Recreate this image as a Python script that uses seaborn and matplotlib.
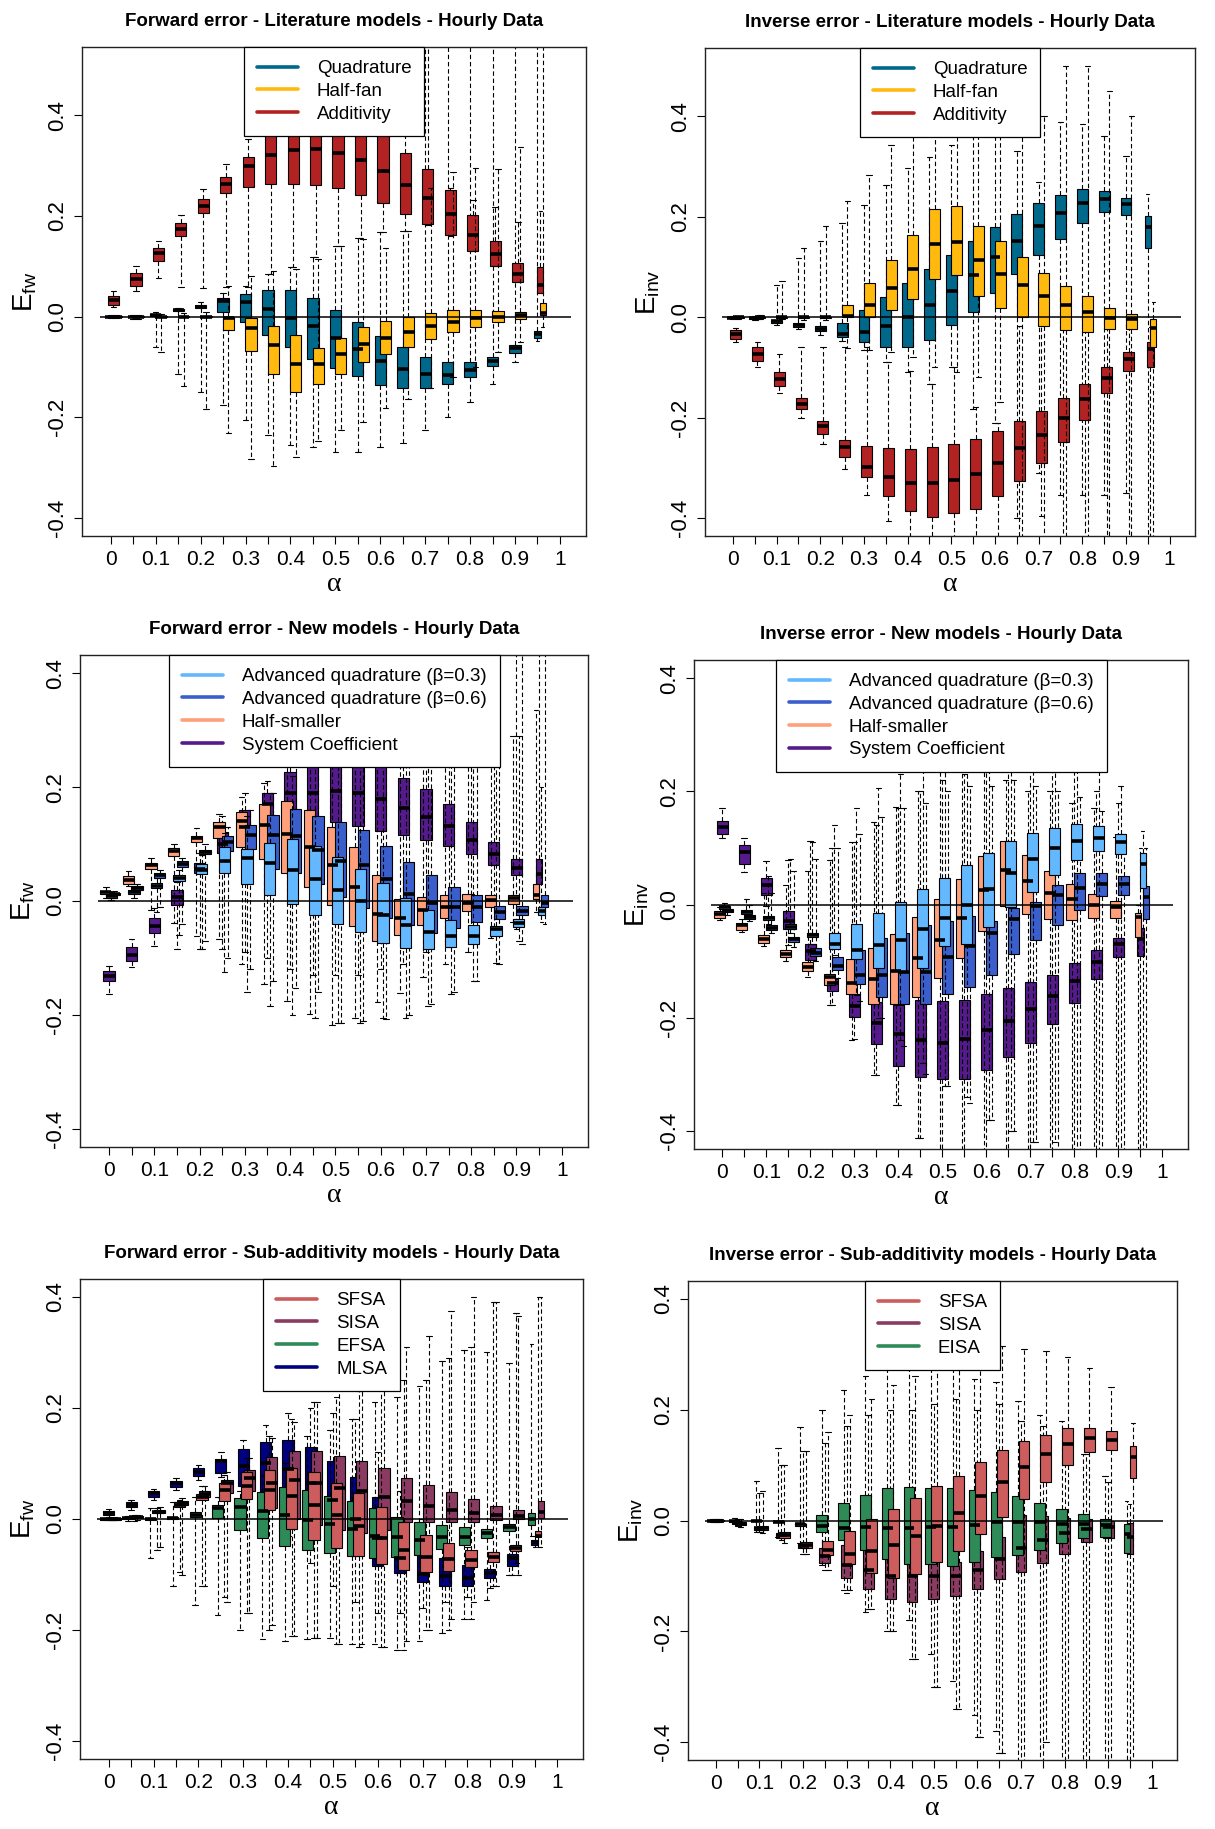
import numpy as np
import pandas as pd
import matplotlib
matplotlib.use("Agg")
import matplotlib.pyplot as plt
from matplotlib.lines import Line2D
import seaborn as sns

sns.set_style("ticks")
plt.rcParams['font.family'] = ['Liberation Sans', 'DejaVu Sans']
for key in ["text.color", "axes.labelcolor", "xtick.color", "ytick.color"]:
    plt.rcParams[key] = "black"

# alpha values (one box per model at each alpha)
ALPHA = [0.0, 0.05, 0.1, 0.15, 0.2, 0.25, 0.3, 0.35, 0.4, 0.45,
         0.5, 0.55, 0.6, 0.65, 0.7, 0.75, 0.8, 0.85, 0.9, 0.95]

# ---- Forward error - Literature models ----
fl_quad_lo = [-0.003,-0.004,-0.061,-0.114,-0.149,-0.175,-0.206,-0.236,-0.255,-0.259,-0.270,-0.269,-0.259,-0.251,-0.225,-0.200,-0.170,-0.133,-0.091,-0.048]
fl_quad_q1 = [-0.001,-0.001,0.002,0.011,0.018,0.009,-0.011,-0.036,-0.061,-0.084,-0.103,-0.118,-0.135,-0.141,-0.141,-0.133,-0.120,-0.098,-0.072,-0.042]
fl_quad_md = [0.0,0.0,0.004,0.013,0.020,0.032,0.030,0.015,-0.002,-0.019,-0.042,-0.065,-0.088,-0.104,-0.114,-0.116,-0.107,-0.088,-0.063,-0.034]
fl_quad_q3 = [0.001,0.001,0.006,0.015,0.023,0.038,0.046,0.052,0.052,0.038,0.013,-0.010,-0.038,-0.061,-0.080,-0.090,-0.091,-0.080,-0.056,-0.028]
fl_quad_hi = [0.003,0.004,0.010,0.018,0.030,0.047,0.061,0.084,0.099,0.118,0.141,0.156,0.168,0.171,0.60,0.60,0.60,0.60,0.60,0.60]

fl_half_lo = [-0.003,-0.004,-0.071,-0.137,-0.183,-0.232,-0.282,-0.297,-0.278,-0.248,-0.225,-0.210,-0.181,-0.164,-0.141,-0.120,-0.100,-0.070,-0.050,-0.020]
fl_half_q1 = [-0.001,-0.001,-0.001,-0.001,-0.001,-0.027,-0.069,-0.114,-0.150,-0.133,-0.113,-0.091,-0.075,-0.061,-0.044,-0.030,-0.021,-0.010,-0.004,0.004]
fl_half_md = [0.0,0.0,0.0,0.0,0.0,-0.002,-0.023,-0.056,-0.095,-0.095,-0.074,-0.055,-0.043,-0.030,-0.019,-0.010,-0.002,0.0,0.004,0.008]
fl_half_q3 = [0.001,0.001,0.001,0.001,0.001,0.0,-0.002,-0.018,-0.037,-0.063,-0.043,-0.021,-0.008,0.0,0.008,0.013,0.013,0.011,0.010,0.027]
fl_half_hi = [0.003,0.004,0.006,0.008,0.010,0.061,0.080,0.090,0.095,0.115,0.140,0.155,0.137,0.171,0.255,0.288,0.295,0.293,0.338,0.60]

fl_add_lo = [0.019,0.051,0.076,0.059,0.057,0.058,0.058,0.084,0.099,0.118,0.141,0.156,0.168,0.171,0.183,0.160,0.130,0.100,0.068,0.047]
fl_add_q1 = [0.024,0.061,0.110,0.161,0.207,0.246,0.257,0.263,0.263,0.261,0.255,0.242,0.225,0.205,0.185,0.162,0.131,0.101,0.069,0.048]
fl_add_md = [0.034,0.074,0.126,0.174,0.220,0.264,0.300,0.321,0.331,0.333,0.326,0.312,0.290,0.261,0.235,0.204,0.162,0.124,0.085,0.063]
fl_add_q3 = [0.042,0.086,0.137,0.187,0.234,0.278,0.318,0.400,0.410,0.420,0.410,0.400,0.380,0.325,0.293,0.251,0.203,0.150,0.107,0.099]
fl_add_hi = [0.050,0.101,0.151,0.202,0.254,0.303,0.354,0.60,0.60,0.60,0.60,0.60,0.60,0.60,0.60,0.255,0.231,0.217,0.189,0.211]

# ---- Inverse error - Literature models ----
il_quad_lo = [-0.004,-0.005,-0.015,-0.024,-0.035,-0.047,-0.066,-0.089,-0.110,-0.133,-0.099,-0.183,-0.210,-0.400,-0.310,-0.355,-0.355,-0.355,-0.350,-0.50]
il_quad_q1 = [-0.002,-0.003,-0.011,-0.019,-0.028,-0.040,-0.050,-0.059,-0.059,-0.045,-0.015,0.011,0.048,0.086,0.123,0.156,0.187,0.210,0.204,0.137]
il_quad_md = [-0.001,-0.002,-0.008,-0.016,-0.024,-0.034,-0.030,-0.017,0.0,0.024,0.052,0.084,0.119,0.152,0.181,0.208,0.227,0.236,0.226,0.180]
il_quad_q3 = [0.0,-0.001,-0.005,-0.011,-0.018,-0.011,0.014,0.040,0.067,0.095,0.124,0.151,0.180,0.206,0.227,0.244,0.255,0.252,0.237,0.202]
il_quad_hi = [0.002,0.002,0.063,0.118,0.152,0.187,0.223,0.263,0.296,0.318,0.343,0.50,0.50,0.330,0.270,0.389,0.385,0.360,0.320,0.245]

il_half_lo = [-0.003,-0.003,-0.004,-0.005,-0.006,-0.062,-0.066,-0.070,-0.080,-0.100,-0.110,-0.120,-0.170,-0.50,-0.50,-0.50,-0.50,-0.50,-0.50,-0.50]
il_half_q1 = [-0.001,-0.001,-0.001,-0.001,-0.001,0.0,0.0,0.015,0.037,0.076,0.084,0.042,0.018,0.0,-0.017,-0.026,-0.030,-0.023,-0.024,-0.059]
il_half_md = [0.0,0.0,0.0,0.0,0.0,0.002,0.025,0.058,0.095,0.145,0.149,0.114,0.086,0.063,0.043,0.025,0.011,-0.002,-0.003,-0.022]
il_half_q3 = [0.001,0.001,0.001,0.001,0.001,0.025,0.067,0.113,0.164,0.216,0.221,0.181,0.151,0.119,0.088,0.061,0.042,0.019,0.006,-0.003]
il_half_hi = [0.003,0.004,0.072,0.137,0.181,0.232,0.283,0.343,0.50,0.50,0.50,0.50,0.50,0.50,0.400,0.50,0.50,0.450,0.400,0.030]

il_add_lo = [-0.049,-0.099,-0.152,-0.201,-0.253,-0.302,-0.354,-0.407,-0.50,-0.50,-0.50,-0.50,-0.50,-0.50,-0.396,-0.50,-0.50,-0.50,-0.50,-0.50]
il_add_q1 = [-0.043,-0.088,-0.137,-0.184,-0.232,-0.278,-0.318,-0.356,-0.386,-0.398,-0.390,-0.382,-0.357,-0.326,-0.291,-0.249,-0.205,-0.152,-0.107,-0.100]
il_add_md = [-0.034,-0.074,-0.123,-0.173,-0.217,-0.258,-0.299,-0.318,-0.331,-0.331,-0.325,-0.312,-0.290,-0.261,-0.234,-0.200,-0.164,-0.122,-0.084,-0.064]
il_add_q3 = [-0.026,-0.060,-0.110,-0.162,-0.207,-0.245,-0.257,-0.261,-0.262,-0.259,-0.253,-0.243,-0.226,-0.206,-0.187,-0.162,-0.133,-0.099,-0.070,-0.049]
il_add_hi = [-0.021,-0.049,-0.074,-0.060,-0.060,-0.060,-0.059,-0.089,-0.108,-0.133,-0.099,-0.180,-0.211,-0.017,-0.015,-0.015,-0.012,-0.012,-0.010,-0.020]

# ---- Forward error - New models ----
fn_aq3_lo = [0.002,0.005,-0.020,-0.060,-0.085,-0.125,-0.159,-0.185,-0.200,-0.205,-0.215,-0.215,-0.206,-0.205,-0.184,-0.163,-0.140,-0.108,-0.071,-0.036]
fn_aq3_q1 = [0.006,0.013,0.023,0.035,0.048,0.050,0.030,0.011,-0.005,-0.025,-0.040,-0.055,-0.073,-0.082,-0.084,-0.081,-0.076,-0.062,-0.045,-0.025]
fn_aq3_md = [0.008,0.016,0.027,0.040,0.055,0.070,0.076,0.066,0.055,0.039,0.020,0.0,-0.024,-0.042,-0.054,-0.062,-0.062,-0.050,-0.039,-0.018]
fn_aq3_q3 = [0.011,0.020,0.031,0.045,0.065,0.094,0.091,0.102,0.109,0.097,0.077,0.057,0.032,0.005,-0.015,-0.034,-0.042,-0.044,-0.032,-0.010]
fn_aq3_hi = [0.015,0.025,0.040,0.055,0.080,0.120,0.150,0.190,0.220,0.250,0.300,0.450,0.450,0.450,0.450,0.50,0.50,0.400,0.290,0.200]

fn_aq6_lo = [0.006,0.014,-0.010,-0.040,-0.070,-0.100,-0.120,-0.140,-0.153,-0.160,-0.215,-0.210,-0.207,-0.200,-0.180,-0.160,-0.140,-0.110,-0.075,-0.040]
fn_aq6_q1 = [0.010,0.019,0.040,0.060,0.082,0.087,0.091,0.057,0.050,0.030,0.007,-0.013,-0.030,-0.042,-0.057,-0.047,-0.036,-0.032,-0.025,-0.010]
fn_aq6_md = [0.012,0.022,0.045,0.065,0.086,0.104,0.116,0.116,0.114,0.090,0.070,0.064,0.038,0.013,-0.003,-0.010,-0.010,-0.020,-0.017,-0.003]
fn_aq6_q3 = [0.014,0.026,0.050,0.070,0.090,0.114,0.134,0.151,0.161,0.150,0.139,0.124,0.097,0.069,0.045,0.024,0.010,-0.008,-0.009,0.010]
fn_aq6_hi = [0.018,0.030,0.055,0.075,0.100,0.130,0.160,0.190,0.50,0.50,0.50,0.50,0.50,0.50,0.50,0.50,0.50,0.50,0.50,0.50]

fn_hs_lo = [0.006,0.026,-0.015,-0.039,-0.061,-0.066,-0.111,-0.145,-0.175,-0.198,-0.217,-0.205,-0.177,-0.161,-0.134,-0.111,-0.089,-0.065,-0.037,-0.020]
fn_hs_q1 = [0.012,0.030,0.056,0.079,0.103,0.111,0.094,0.074,0.049,0.024,-0.007,-0.044,-0.071,-0.060,-0.042,-0.029,-0.017,-0.010,-0.005,0.003]
fn_hs_md = [0.015,0.037,0.063,0.087,0.110,0.130,0.140,0.133,0.118,0.094,0.064,0.025,-0.022,-0.029,-0.015,-0.010,-0.003,0.002,0.005,0.011]
fn_hs_q3 = [0.018,0.044,0.067,0.093,0.114,0.138,0.156,0.170,0.175,0.159,0.130,0.094,0.045,0.003,0.007,0.011,0.013,0.011,0.011,0.029]
fn_hs_hi = [0.024,0.052,0.075,0.100,0.129,0.153,0.182,0.208,0.350,0.450,0.50,0.50,0.50,0.50,0.50,0.50,0.450,0.400,0.290,0.335]

fn_sc_lo = [-0.163,-0.116,-0.079,-0.084,-0.084,-0.085,-0.090,-0.100,-0.120,-0.130,-0.130,-0.130,-0.120,-0.110,-0.090,-0.080,-0.070,-0.060,-0.050,-0.020]
fn_sc_q1 = [-0.141,-0.106,-0.056,-0.007,0.050,0.084,0.095,0.118,0.110,0.130,0.139,0.131,0.123,0.116,0.108,0.097,0.082,0.063,0.045,0.030]
fn_sc_md = [-0.132,-0.094,-0.044,0.007,0.057,0.100,0.130,0.170,0.190,0.190,0.194,0.190,0.180,0.163,0.148,0.131,0.108,0.083,0.058,0.048]
fn_sc_q3 = [-0.123,-0.081,-0.030,0.019,0.067,0.121,0.160,0.190,0.227,0.240,0.250,0.250,0.240,0.216,0.197,0.170,0.139,0.103,0.074,0.074]
fn_sc_hi = [-0.114,-0.066,-0.013,0.034,0.084,0.150,0.190,0.210,0.50,0.50,0.50,0.50,0.50,0.50,0.50,0.50,0.50,0.50,0.50,0.50]

# ---- Inverse error - New models ----
in_aq3_lo = [-0.012,-0.020,-0.035,-0.050,-0.070,-0.090,-0.160,-0.200,-0.240,-0.280,-0.320,-0.340,-0.380,-0.400,-0.420,-0.420,-0.50,-0.50,-0.50,-0.50]
in_aq3_q1 = [-0.008,-0.017,-0.028,-0.043,-0.058,-0.078,-0.096,-0.112,-0.118,-0.112,-0.074,-0.069,-0.040,-0.005,0.022,0.052,0.078,0.095,0.090,0.029]
in_aq3_md = [-0.005,-0.013,-0.024,-0.039,-0.054,-0.070,-0.080,-0.072,-0.062,-0.044,-0.024,0.0,0.027,0.055,0.080,0.099,0.113,0.118,0.110,0.071]
in_aq3_q3 = [-0.002,-0.010,-0.020,-0.035,-0.050,-0.051,-0.035,-0.015,0.005,0.027,0.046,0.070,0.091,0.113,0.126,0.135,0.142,0.139,0.124,0.091]
in_aq3_hi = [0.002,0.010,0.050,0.080,0.110,0.140,0.170,0.205,0.230,0.250,0.300,0.300,0.300,0.300,0.300,0.300,0.300,0.250,0.210,0.130]

in_aq6_lo = [-0.018,-0.030,-0.050,-0.075,-0.100,-0.130,-0.170,-0.200,-0.250,-0.300,-0.320,-0.350,-0.380,-0.400,-0.420,-0.450,-0.50,-0.50,-0.50,-0.50]
in_aq6_q1 = [-0.014,-0.025,-0.045,-0.066,-0.091,-0.115,-0.141,-0.163,-0.176,-0.175,-0.158,-0.145,-0.125,-0.088,-0.062,-0.037,-0.009,0.015,0.017,-0.026]
in_aq6_md = [-0.011,-0.022,-0.041,-0.061,-0.085,-0.108,-0.124,-0.125,-0.120,-0.120,-0.093,-0.074,-0.050,-0.025,-0.002,0.016,0.029,0.037,0.036,0.014]
in_aq6_q3 = [-0.008,-0.019,-0.037,-0.057,-0.076,-0.093,-0.080,-0.060,-0.051,-0.037,-0.030,-0.020,-0.030,-0.007,0.004,0.034,0.056,0.056,0.051,0.032]
in_aq6_hi = [-0.004,0.0,0.020,0.060,0.080,0.100,0.125,0.155,0.170,0.180,0.200,0.210,0.210,0.220,0.210,0.200,0.190,0.165,0.125,0.100]

in_hs_lo = [-0.028,-0.049,-0.074,-0.100,-0.128,-0.178,-0.239,-0.301,-0.355,-0.413,-0.50,-0.50,-0.50,-0.50,-0.50,-0.50,-0.50,-0.50,-0.50,-0.50]
in_hs_q1 = [-0.024,-0.045,-0.068,-0.093,-0.118,-0.142,-0.158,-0.176,-0.176,-0.163,-0.130,-0.095,-0.046,-0.003,-0.017,-0.025,-0.027,-0.024,-0.024,-0.057]
in_hs_md = [-0.017,-0.037,-0.061,-0.087,-0.110,-0.128,-0.139,-0.131,-0.118,-0.094,-0.063,-0.024,0.025,0.061,0.042,0.020,0.009,0.0,-0.005,-0.022]
in_hs_q3 = [-0.011,-0.032,-0.054,-0.081,-0.101,-0.122,-0.096,-0.076,-0.053,-0.022,0.009,0.045,0.086,0.113,0.088,0.059,0.037,0.018,0.007,-0.015]
in_hs_hi = [-0.005,-0.025,0.020,0.035,0.060,0.078,0.110,0.145,0.172,0.200,0.250,0.250,0.250,0.220,0.200,0.200,0.180,0.170,0.120,0.0]

in_sc_lo = [0.117,0.057,-0.003,-0.071,-0.112,-0.178,-0.238,-0.301,-0.355,-0.413,-0.50,-0.50,-0.50,-0.50,-0.50,-0.50,-0.50,-0.50,-0.50,-0.50]
in_sc_q1 = [0.125,0.072,0.016,-0.043,-0.098,-0.152,-0.199,-0.246,-0.286,-0.304,-0.308,-0.308,-0.293,-0.269,-0.245,-0.212,-0.174,-0.131,-0.093,-0.091]
in_sc_md = [0.137,0.093,0.034,-0.029,-0.083,-0.139,-0.179,-0.209,-0.228,-0.239,-0.244,-0.237,-0.222,-0.205,-0.185,-0.162,-0.135,-0.101,-0.070,-0.061]
in_sc_q3 = [0.147,0.105,0.046,-0.012,-0.070,-0.132,-0.158,-0.173,-0.177,-0.169,-0.170,-0.169,-0.158,-0.148,-0.137,-0.125,-0.103,-0.080,-0.059,-0.041]
in_sc_hi = [0.171,0.117,0.076,0.079,0.113,0.100,0.110,0.140,0.170,0.200,0.220,0.230,0.250,0.250,0.250,0.250,0.250,0.200,0.180,0.100]

# ---- Forward error - Sub-additivity models ----
fs_sfsa_lo = [-0.002,-0.003,-0.055,-0.095,-0.120,-0.140,-0.170,-0.200,-0.210,-0.215,-0.225,-0.230,-0.230,-0.235,-0.200,-0.200,-0.180,-0.120,-0.080,-0.050]
fs_sfsa_q1 = [-0.001,0.002,0.010,0.022,0.035,0.032,0.036,0.017,-0.018,-0.037,-0.052,-0.066,-0.081,-0.092,-0.095,-0.094,-0.087,-0.077,-0.057,-0.033]
fs_sfsa_md = [0.0,0.003,0.012,0.026,0.040,0.053,0.060,0.053,0.041,0.026,0.007,-0.012,-0.035,-0.055,-0.068,-0.072,-0.073,-0.068,-0.052,-0.030]
fs_sfsa_q3 = [0.001,0.005,0.015,0.030,0.045,0.064,0.084,0.088,0.092,0.084,0.064,0.046,0.021,-0.006,-0.028,-0.043,-0.055,-0.059,-0.046,-0.021]
fs_sfsa_hi = [0.002,0.007,0.020,0.035,0.060,0.080,0.110,0.150,0.180,0.210,0.220,0.230,0.240,0.250,0.250,0.290,0.310,0.390,0.370,0.400]

fs_sisa_lo = [-0.002,-0.002,-0.050,-0.100,-0.120,-0.150,-0.170,-0.190,-0.210,-0.215,-0.225,-0.225,-0.230,-0.220,-0.200,-0.180,-0.150,-0.120,-0.100,-0.050]
fs_sisa_q1 = [-0.001,0.002,0.011,0.025,0.040,0.046,0.050,0.020,0.0,-0.010,-0.020,-0.025,-0.020,-0.006,-0.006,-0.006,-0.006,-0.002,0.0,0.001]
fs_sisa_md = [0.0,0.004,0.013,0.028,0.045,0.064,0.074,0.065,0.070,0.065,0.055,0.050,0.040,0.032,0.023,0.017,0.010,0.007,0.005,0.012]
fs_sisa_q3 = [0.001,0.006,0.016,0.032,0.050,0.070,0.088,0.112,0.122,0.122,0.113,0.105,0.091,0.074,0.062,0.048,0.036,0.023,0.017,0.032]
fs_sisa_hi = [0.002,0.008,0.022,0.038,0.060,0.085,0.110,0.145,0.175,0.210,0.250,0.270,0.290,0.310,0.330,0.375,0.400,0.390,0.365,0.400]

fs_efsa_lo = [-0.002,-0.003,-0.070,-0.120,-0.155,-0.172,-0.200,-0.216,-0.220,-0.216,-0.215,-0.225,-0.225,-0.235,-0.220,-0.205,-0.180,-0.145,-0.100,-0.030]
fs_efsa_q1 = [-0.001,0.0,-0.002,0.0,0.004,0.001,-0.019,-0.035,-0.048,-0.055,-0.061,-0.066,-0.071,-0.069,-0.064,-0.054,-0.047,-0.035,-0.021,-0.011]
fs_efsa_md = [0.0,0.002,0.0,0.002,0.008,0.020,0.021,0.014,0.008,-0.002,-0.009,-0.018,-0.030,-0.033,-0.037,-0.033,-0.032,-0.026,-0.014,0.0]
fs_efsa_q3 = [0.001,0.004,0.002,0.004,0.012,0.026,0.037,0.048,0.057,0.052,0.041,0.032,0.019,0.003,-0.006,-0.010,-0.014,-0.018,-0.009,0.010]
fs_efsa_hi = [0.002,0.006,0.020,0.030,0.040,0.040,0.050,0.080,0.100,0.150,0.160,0.180,0.210,0.220,0.240,0.285,0.305,0.300,0.280,0.315]

fs_mlsa_lo = [0.004,0.017,0.034,0.052,0.070,0.075,0.035,0.0,-0.030,-0.080,-0.120,-0.150,-0.170,-0.170,-0.160,-0.150,-0.140,-0.125,-0.100,-0.050]
fs_mlsa_q1 = [0.008,0.021,0.040,0.058,0.077,0.083,0.060,0.040,0.020,-0.005,-0.040,-0.065,-0.085,-0.097,-0.113,-0.121,-0.121,-0.107,-0.084,-0.047]
fs_mlsa_md = [0.011,0.026,0.046,0.064,0.084,0.104,0.095,0.100,0.090,0.065,0.035,0.0,-0.035,-0.070,-0.099,-0.102,-0.106,-0.097,-0.071,-0.041]
fs_mlsa_q3 = [0.014,0.030,0.051,0.069,0.091,0.108,0.126,0.138,0.143,0.129,0.104,0.075,0.040,-0.030,-0.055,-0.070,-0.082,-0.090,-0.063,-0.037]
fs_mlsa_hi = [0.018,0.034,0.054,0.073,0.097,0.120,0.143,0.170,0.190,0.200,0.190,0.180,0.120,0.050,0.0,-0.020,-0.050,-0.060,-0.050,-0.030]

# ---- Inverse error - Sub-additivity models ----
is_sfsa_lo = [-0.002,-0.012,-0.022,-0.040,-0.060,-0.090,-0.125,-0.160,-0.200,-0.250,-0.300,-0.340,-0.390,-0.420,-0.50,-0.400,-0.50,-0.50,-0.50,-0.50]
is_sfsa_q1 = [-0.001,-0.009,-0.017,-0.032,-0.050,-0.062,-0.079,-0.095,-0.104,-0.097,-0.075,-0.055,-0.024,0.007,0.038,0.070,0.100,0.124,0.128,0.076]
is_sfsa_md = [0.0,-0.006,-0.014,-0.026,-0.044,-0.053,-0.061,-0.055,-0.045,-0.028,-0.010,0.014,0.044,0.070,0.097,0.120,0.138,0.149,0.146,0.115]
is_sfsa_q3 = [0.001,-0.003,-0.010,-0.021,-0.038,-0.037,-0.019,0.002,0.021,0.040,0.062,0.081,0.106,0.128,0.143,0.155,0.166,0.167,0.162,0.135]
is_sfsa_hi = [0.002,0.003,0.053,0.100,0.125,0.160,0.190,0.220,0.245,0.260,0.350,0.400,0.450,0.315,0.310,0.305,0.295,0.275,0.240,0.175]

is_sisa_lo = [-0.002,-0.010,-0.020,-0.035,-0.060,-0.090,-0.130,-0.160,-0.200,-0.250,-0.300,-0.340,-0.390,-0.420,-0.50,-0.450,-0.50,-0.50,-0.50,-0.50]
is_sisa_q1 = [-0.001,-0.007,-0.017,-0.031,-0.050,-0.076,-0.104,-0.124,-0.142,-0.147,-0.142,-0.137,-0.124,-0.106,-0.092,-0.076,-0.060,-0.038,-0.032,-0.060]
is_sisa_md = [0.0,-0.005,-0.014,-0.027,-0.046,-0.064,-0.080,-0.090,-0.100,-0.100,-0.100,-0.100,-0.090,-0.070,-0.050,-0.035,-0.022,-0.015,-0.012,-0.030]
is_sisa_q3 = [0.001,-0.003,-0.011,-0.023,-0.042,-0.050,-0.045,-0.050,-0.050,-0.050,-0.075,-0.075,-0.055,-0.030,0.010,0.008,0.005,0.002,0.0,-0.005]
is_sisa_hi = [0.002,0.003,0.050,0.100,0.125,0.140,0.170,0.190,0.200,0.200,0.210,0.220,0.200,0.210,0.180,0.170,0.130,0.120,0.070,0.030]

is_eisa_lo = [-0.002,-0.004,-0.020,-0.030,-0.040,-0.080,-0.125,-0.165,-0.200,-0.180,-0.240,-0.290,-0.350,-0.380,-0.50,-0.50,-0.50,-0.50,-0.50,-0.50]
is_eisa_q1 = [-0.001,-0.002,-0.001,-0.003,-0.010,-0.021,-0.035,-0.053,-0.069,-0.078,-0.078,-0.082,-0.075,-0.066,-0.062,-0.053,-0.041,-0.032,-0.030,-0.059]
is_eisa_md = [0.0,-0.001,0.0,-0.002,-0.007,-0.010,-0.014,-0.012,-0.014,-0.014,-0.012,-0.012,-0.009,-0.003,-0.003,-0.003,-0.007,-0.007,-0.009,-0.024]
is_eisa_q3 = [0.001,0.0,0.001,-0.001,-0.004,0.010,0.031,0.046,0.059,0.060,0.059,0.059,0.055,0.052,0.045,0.031,0.021,0.012,0.003,-0.006]
is_eisa_hi = [0.002,0.004,0.072,0.131,0.169,0.200,0.235,0.260,0.300,0.350,0.450,0.450,0.255,0.250,0.215,0.190,0.180,0.120,0.080,0.035]

# colours (R named colours)
C_QUAD = "#00688B"
C_HALF = "#FFB90F"
C_ADD = "#B22222"
C_AQ3 = "#63B8FF"
C_AQ6 = "#3A5FCD"
C_HS = "#FFA07A"
C_SC = "#551A8B"
C_SFSA = "#CD5C5C"
C_SISA = "#8B3A62"
C_GREEN = "#2E8B57"
C_MLSA = "#000080"


def box_series(ax, lo, q1, md, q3, hi, offset, color):
    # each box is drawn from its five summary values, whiskers to min/max
    xs, ys = [], []
    for a, stats in zip(ALPHA, zip(lo, q1, md, q3, hi)):
        xs += [round(a + offset, 4)] * 5
        ys += list(stats)
    df = pd.DataFrame({"alpha": xs, "E": ys})
    last = df["alpha"] == df["alpha"].max()
    kw = dict(x="alpha", y="E", orient="x", native_scale=True, color=color,
              saturation=1, linecolor="black", linewidth=0.8, whis=(0, 100),
              legend=False, ax=ax,
              whiskerprops={"linestyle": (0, (4, 2.5)), "linewidth": 0.8},
              medianprops={"linewidth": 2.6})
    sns.boxplot(data=df[~last], width=0.5, **kw)
    sns.boxplot(data=df[last], width=0.014, **kw)


panels = [
    dict(title="Forward error - Literature models - Hourly Data", yl="fw",
         ylim=(-0.436, 0.536), rect=(82, 47, 586, 536),
         draw=[(fl_quad_lo, fl_quad_q1, fl_quad_md, fl_quad_q3, fl_quad_hi, 0.0, C_QUAD),
               (fl_add_lo, fl_add_q1, fl_add_md, fl_add_q3, fl_add_hi, 0.006, C_ADD),
               (fl_half_lo, fl_half_q1, fl_half_md, fl_half_q3, fl_half_hi, 0.012, C_HALF)],
         legend=[("Quadrature", C_QUAD), ("Half-fan", C_HALF), ("Additivity", C_ADD)]),
    dict(title="Inverse error - Literature models - Hourly Data", yl="inv",
         ylim=(-0.436, 0.536), rect=(705, 48, 1195, 536),
         draw=[(il_quad_lo, il_quad_q1, il_quad_md, il_quad_q3, il_quad_hi, 0.0, C_QUAD),
               (il_add_lo, il_add_q1, il_add_md, il_add_q3, il_add_hi, 0.006, C_ADD),
               (il_half_lo, il_half_q1, il_half_md, il_half_q3, il_half_hi, 0.012, C_HALF)],
         legend=[("Quadrature", C_QUAD), ("Half-fan", C_HALF), ("Additivity", C_ADD)]),
    dict(title="Forward error - New models - Hourly Data", yl="fw",
         ylim=(-0.432, 0.432), rect=(80, 655, 588, 1147),
         draw=[(fn_sc_lo, fn_sc_q1, fn_sc_md, fn_sc_q3, fn_sc_hi, 0.0, C_SC),
               (fn_hs_lo, fn_hs_q1, fn_hs_md, fn_hs_q3, fn_hs_hi, -0.007, C_HS),
               (fn_aq6_lo, fn_aq6_q1, fn_aq6_md, fn_aq6_q3, fn_aq6_hi, 0.012, C_AQ6),
               (fn_aq3_lo, fn_aq3_q1, fn_aq3_md, fn_aq3_q3, fn_aq3_hi, 0.005, C_AQ3)],
         legend=[("Advanced quadrature (\u03b2=0.3)", C_AQ3),
                 ("Advanced quadrature (\u03b2=0.6)", C_AQ6),
                 ("Half-smaller", C_HS), ("System Coefficient", C_SC)]),
    dict(title="Inverse error - New models - Hourly Data", yl="inv",
         ylim=(-0.432, 0.432), rect=(694, 660, 1188, 1149),
         draw=[(in_sc_lo, in_sc_q1, in_sc_md, in_sc_q3, in_sc_hi, 0.0, C_SC),
               (in_hs_lo, in_hs_q1, in_hs_md, in_hs_q3, in_hs_hi, -0.006, C_HS),
               (in_aq6_lo, in_aq6_q1, in_aq6_md, in_aq6_q3, in_aq6_hi, 0.012, C_AQ6),
               (in_aq3_lo, in_aq3_q1, in_aq3_md, in_aq3_q3, in_aq3_hi, 0.005, C_AQ3)],
         legend=[("Advanced quadrature (\u03b2=0.3)", C_AQ3),
                 ("Advanced quadrature (\u03b2=0.6)", C_AQ6),
                 ("Half-smaller", C_HS), ("System Coefficient", C_SC)]),
    dict(title="Forward error - Sub-additivity models - Hourly Data", yl="fw",
         ylim=(-0.432, 0.432), rect=(80, 1279, 583, 1759),
         draw=[(fs_mlsa_lo, fs_mlsa_q1, fs_mlsa_md, fs_mlsa_q3, fs_mlsa_hi, 0.0, C_MLSA),
               (fs_sisa_lo, fs_sisa_q1, fs_sisa_md, fs_sisa_q3, fs_sisa_hi, 0.014, C_SISA),
               (fs_efsa_lo, fs_efsa_q1, fs_efsa_md, fs_efsa_q3, fs_efsa_hi, -0.007, C_GREEN),
               (fs_sfsa_lo, fs_sfsa_q1, fs_sfsa_md, fs_sfsa_q3, fs_sfsa_hi, 0.008, C_SFSA)],
         legend=[("SFSA", C_SFSA), ("SISA", C_SISA), ("EFSA", C_GREEN), ("MLSA", C_MLSA)]),
    dict(title="Inverse error - Sub-additivity models - Hourly Data", yl="inv",
         ylim=(-0.432, 0.432), rect=(688, 1281, 1177, 1760),
         draw=[(is_sisa_lo, is_sisa_q1, is_sisa_md, is_sisa_q3, is_sisa_hi, 0.0, C_SISA),
               (is_eisa_lo, is_eisa_q1, is_eisa_md, is_eisa_q3, is_eisa_hi, -0.007, C_GREEN),
               (is_sfsa_lo, is_sfsa_q1, is_sfsa_md, is_sfsa_q3, is_sfsa_hi, 0.007, C_SFSA)],
         legend=[("SFSA", C_SFSA), ("SISA", C_SISA), ("EISA", C_GREEN)]),
]

W, H = 1215, 1829
fig = plt.figure(figsize=(W / 100, H / 100), dpi=100)

xticks = np.round(np.arange(0, 1.0001, 0.05), 2)
xlabels = [("%g" % t) if i % 2 == 0 else "" for i, t in enumerate(xticks)]
yticks = [-0.4, -0.2, 0.0, 0.2, 0.4]
ylabels = ["-0.4", "-0.2", "0.0", "0.2", "0.4"]

for p in panels:
    l, t, r, b = p["rect"]
    ax = fig.add_axes([l / W, 1 - b / H, (r - l) / W, (b - t) / H])
    for s in p["draw"]:
        box_series(ax, *s)
    ax.hlines(0, -0.025, 1.025, colors="black", linewidth=1.1, zorder=10)

    ax.set_xlim(-0.064, 1.058)
    ax.set_ylim(*p["ylim"])
    ax.set_xticks(xticks, xlabels)
    ax.set_yticks(yticks, ylabels)
    for lab in ax.get_yticklabels():
        lab.set_rotation(90)
        lab.set_va("center")
    ax.tick_params(direction="out", length=6, width=0.8, color="black",
                   labelsize=15, pad=4)
    ax.tick_params(axis="y", labelsize=16)
    for sp in ax.spines.values():
        sp.set_visible(True)
        sp.set_linewidth(1.0)
        sp.set_color("#222222")

    ax.set_xlabel("\u03b1", fontsize=20, labelpad=2,
                  family=["Liberation Serif", "DejaVu Serif"])
    ax.set_ylabel(r"$\mathregular{E_{%s}}$" % p["yl"], fontsize=20, labelpad=6)
    ax.set_title(p["title"], fontsize=13.5, fontweight="bold", pad=15)

    handles = [Line2D([], [], color=c, linewidth=2.6) for _, c in p["legend"]]
    leg = ax.legend(handles, [n for n, _ in p["legend"]], loc="upper center",
                    bbox_to_anchor=(0.5, 1.0), borderaxespad=0, fontsize=13.5,
                    frameon=True, fancybox=False, framealpha=1,
                    edgecolor="black", handlelength=2.2, handletextpad=1.0,
                    labelspacing=0.3, borderpad=0.7)
    leg.get_frame().set_linewidth(0.9)
    leg.set_zorder(20)

fig.savefig("out.png", dpi=100)
